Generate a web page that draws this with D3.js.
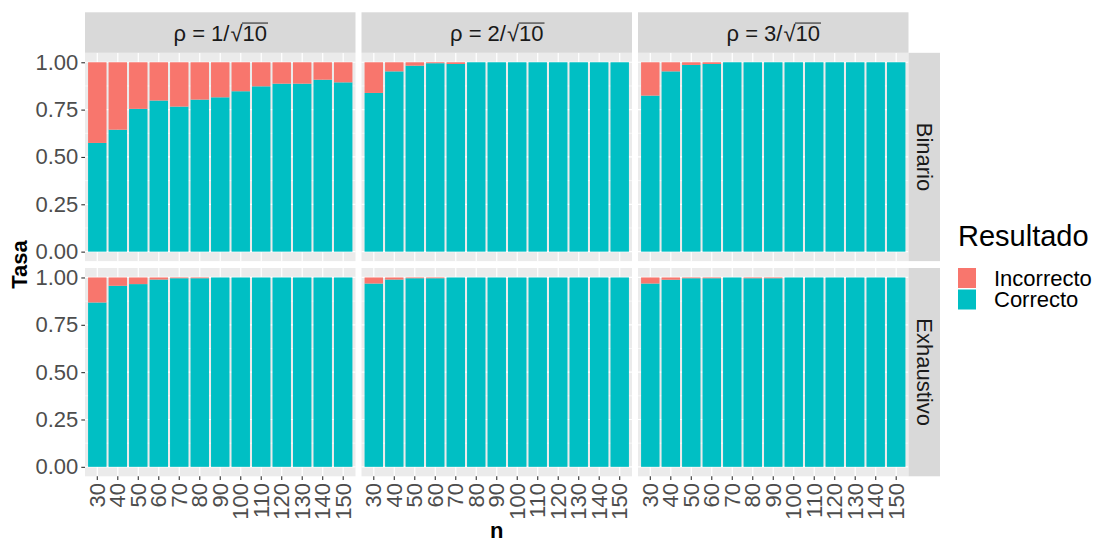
<!DOCTYPE html>
<html>
<head>
<meta charset="utf-8">
<script src="https://cdn.jsdelivr.net/npm/d3@7"></script>
<style>
  html, body { margin: 0; padding: 0; background: #ffffff; }
  svg { display: block; }
  text { font-family: "Liberation Sans", Arial, sans-serif; }
</style>
</head>
<body>
<div id="chart"></div>
<script>
// Sample sizes on the x axis
const sizes = ["30", "40", "50", "60", "70", "80", "90", "100", "110", "120", "130", "140", "150"];
// Facet columns (numerator of rho = k / sqrt(10)) and facet rows (method)
const rhoNumerators = ["1", "2", "3"];
const methods = ["Binario", "Exhaustivo"];
// Outcome classes, in legend order
const outcomes = ["Incorrecto", "Correcto"];
const outcomeColors = ["#F8766D", "#00BFC4"];
// Share of correct results for each n
const binarioRho1 = [0.574, 0.644, 0.754, 0.798, 0.766, 0.803, 0.815, 0.847, 0.873, 0.887, 0.887, 0.908, 0.894];
const binarioRho2 = [0.838, 0.952, 0.982, 0.995, 0.991, 1, 1, 1, 1, 1, 1, 1, 1];
const binarioRho3 = [0.824, 0.952, 0.986, 0.991, 1, 1, 1, 1, 1, 1, 1, 1, 1];
const exhaustivoRho1 = [0.868, 0.956, 0.965, 0.989, 0.996, 0.996, 1, 1, 1, 1, 1, 1, 1];
const exhaustivoRho2 = [0.968, 0.989, 0.996, 0.996, 1, 1, 1, 1, 1, 1, 1, 1, 1];
const exhaustivoRho3 = [0.968, 0.988, 0.996, 0.996, 1, 0.996, 0.996, 1, 1, 1, 1, 1, 1];
// Y axis ticks
const yTicks = [0, 0.25, 0.5, 0.75, 1];
const yMinor = [0.125, 0.375, 0.625, 0.875];

const correctShare = {
  "Binario": [binarioRho1, binarioRho2, binarioRho3],
  "Exhaustivo": [exhaustivoRho1, exhaustivoRho2, exhaustivoRho3]
};

const W = 1110, H = 543;
const svg = d3.select("#chart").append("svg").attr("width", W).attr("height", H);

// Panel layout
const colLeft = [85, 361.5, 638];
const panelW = 270.5;
const rowTop = [52.8, 268];
const panelH = 208.3;
const stripTop = 12.3;
const stripRightX = panelW + colLeft[2];
const stripRightW = 31.5;

const fillScale = d3.scaleOrdinal().domain(outcomes).range(outcomeColors);

rowTop.forEach((top, r) => {
  const y = d3.scaleLinear().domain([-0.05, 1.05]).range([top + panelH, top]);
  colLeft.forEach((left, c) => {
    const x = d3.scaleBand().domain(sizes).range([left, left + panelW])
      .paddingInner(0.1).paddingOuter(0.15);
    const g = svg.append("g");
    g.append("rect").attr("x", left).attr("y", top).attr("width", panelW).attr("height", panelH)
      .attr("fill", "#EBEBEB");
    // minor grid
    g.selectAll(".minor").data(yMinor).join("line")
      .attr("x1", left).attr("x2", left + panelW)
      .attr("y1", d => y(d)).attr("y2", d => y(d))
      .attr("stroke", "#ffffff").attr("stroke-width", 0.6);
    // major grid
    g.selectAll(".majorY").data(yTicks).join("line")
      .attr("x1", left).attr("x2", left + panelW)
      .attr("y1", d => y(d)).attr("y2", d => y(d))
      .attr("stroke", "#ffffff").attr("stroke-width", 1.2);
    g.selectAll(".majorX").data(sizes).join("line")
      .attr("x1", d => x(d) + x.bandwidth() / 2).attr("x2", d => x(d) + x.bandwidth() / 2)
      .attr("y1", top).attr("y2", top + panelH)
      .attr("stroke", "#ffffff").attr("stroke-width", 1.2);

    const shares = correctShare[methods[r]][c];
    const stacked = sizes.map((n, i) => ({ n, correct: shares[i] }));
    // correct (bottom)
    g.selectAll(".corr").data(stacked).join("rect")
      .attr("x", d => x(d.n)).attr("width", x.bandwidth())
      .attr("y", d => y(d.correct)).attr("height", d => y(0) - y(d.correct))
      .attr("fill", fillScale("Correcto"));
    // incorrect (top)
    g.selectAll(".inc").data(stacked.filter(d => d.correct < 1)).join("rect")
      .attr("x", d => x(d.n)).attr("width", x.bandwidth())
      .attr("y", y(1)).attr("height", d => y(d.correct) - y(1))
      .attr("fill", fillScale("Incorrecto"));

    // y axis on first column
    if (c === 0) {
      const ax = svg.append("g").attr("transform", `translate(${left},0)`)
        .call(d3.axisLeft(y).tickValues(yTicks).tickFormat(d3.format(".2f")).tickSize(3.7).tickPadding(3));
      ax.select(".domain").remove();
      ax.selectAll("line").attr("stroke", "#333333").attr("stroke-width", 1.1);
      ax.selectAll("text").attr("fill", "#4D4D4D").style("font-size", "22px")
        .style("font-family", "'Liberation Sans', Arial, sans-serif");
    }
    // x axis on bottom row
    if (r === 1) {
      const ax = svg.append("g").attr("transform", `translate(0,${top + panelH})`)
        .call(d3.axisBottom(x).tickSize(3.7).tickPadding(3));
      ax.select(".domain").remove();
      ax.selectAll("line").attr("stroke", "#333333").attr("stroke-width", 1.1);
      ax.selectAll("text").attr("fill", "#4D4D4D").style("font-size", "22px")
        .style("font-family", "'Liberation Sans', Arial, sans-serif")
        .attr("transform", "rotate(-90)")
        .attr("text-anchor", "end")
        .attr("dy", "0.35em")
        .attr("x", -6.7).attr("y", 0);
    }
  });
});

// Top strips: rho = k / sqrt(10)
colLeft.forEach((left, c) => {
  svg.append("rect").attr("x", left).attr("y", stripTop).attr("width", panelW).attr("height", rowTop[0] - stripTop)
    .attr("fill", "#D9D9D9");
  const t = svg.append("text")
    .attr("x", left + panelW / 2).attr("y", (stripTop + rowTop[0]) / 2 + 8)
    .attr("text-anchor", "middle").attr("fill", "#1A1A1A").style("font-size", "22px");
  t.append("tspan").text("ρ = " + rhoNumerators[c] + "/");
  t.append("tspan").attr("dx", 1).text("√");
  t.append("tspan").text("10");
  // overbar of the radical
  const node = t.node();
  const s = node.textContent;
  const i0 = s.indexOf("√");
  const xr = node.getEndPositionOfChar(i0).x;
  const xe = node.getEndPositionOfChar(s.length - 1).x;
  const yb = (stripTop + rowTop[0]) / 2 + 8;
  svg.append("line").attr("x1", xr - 0.5).attr("x2", xe + 1)
    .attr("y1", yb - 17.5).attr("y2", yb - 17.5)
    .attr("stroke", "#1A1A1A").attr("stroke-width", 1);
});

// Right strips: method
rowTop.forEach((top, r) => {
  svg.append("rect").attr("x", stripRightX).attr("y", top).attr("width", stripRightW).attr("height", panelH)
    .attr("fill", "#D9D9D9");
  const cx = stripRightX + stripRightW / 2, cy = top + panelH / 2;
  svg.append("text").attr("transform", `translate(${cx},${cy}) rotate(90)`)
    .attr("text-anchor", "middle").attr("dy", "0.35em")
    .attr("fill", "#1A1A1A").style("font-size", "22px").text(methods[r]);
});

// Axis titles
svg.append("text").attr("transform", `translate(27,${(rowTop[0] + rowTop[1] + panelH) / 2}) rotate(-90)`)
  .attr("text-anchor", "middle").style("font-size", "22px").style("font-weight", "bold")
  .attr("fill", "#000000").text("Tasa");
svg.append("text").attr("x", (colLeft[0] + colLeft[2] + panelW) / 2).attr("y", 538)
  .attr("text-anchor", "middle").style("font-size", "22px").style("font-weight", "bold")
  .attr("fill", "#000000").text("n");

// Legend
const lg = svg.append("g");
lg.append("text").attr("x", 958).attr("y", 246).style("font-size", "29px").attr("fill", "#000000").text("Resultado");
outcomes.forEach((o, i) => {
  const yk = 268 + i * 21.5;
  lg.append("rect").attr("x", 958).attr("y", yk).attr("width", 18).attr("height", 20).attr("fill", fillScale(o));
  lg.append("text").attr("x", 994).attr("y", yk + 10).attr("dy", "0.35em")
    .style("font-size", "22px").attr("fill", "#000000").text(o);
});
</script>
</body>
</html>
